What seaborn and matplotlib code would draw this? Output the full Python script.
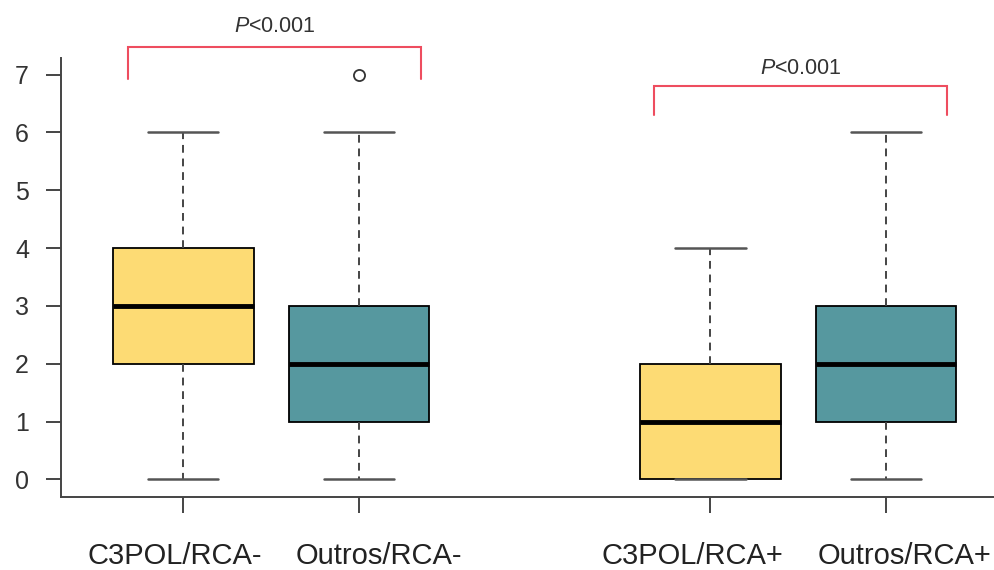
import matplotlib
matplotlib.use("Agg")
import matplotlib.pyplot as plt
import matplotlib.transforms as mtransforms
import seaborn as sns
import pandas as pd

# ---- data ----
categories = ["C3POL/RCA-", "Outros/RCA-", "C3POL/RCA+", "Outros/RCA+"]
kinds = ["C3POL", "Outros", "C3POL", "Outros"]
c3pol_rca_neg = [0, 2, 2, 3, 3, 3, 4, 4, 6]
outros_rca_neg = [0, 1, 1, 2, 2, 3, 3, 6, 7]
c3pol_rca_pos = [0, 0, 0, 1, 1, 2, 2, 3, 4]
outros_rca_pos = [0, 1, 1, 2, 2, 3, 3, 5, 6]
series = [c3pol_rca_neg, outros_rca_neg, c3pol_rca_pos, outros_rca_pos]
y_ticks = [0, 1, 2, 3, 4, 5, 6, 7]
p_label = "$\\mathit{P}$<0.001"

# layout positions (R-style gap between the two groups)
positions = [1, 2, 4, 5]
label_shift_px = [-9, 20, -18, 18]

rows = []
for cat, kind, pos, vals in zip(categories, kinds, positions, series):
    for v in vals:
        rows.append({"category": cat, "kind": kind, "pos": pos, "value": v})
df = pd.DataFrame(rows)

sns.set_theme(style="white")
plt.rcParams["font.family"] = ["Liberation Sans", "DejaVu Sans"]
plt.rcParams["mathtext.fontset"] = "custom"
plt.rcParams["mathtext.it"] = "Liberation Sans:italic"
plt.rcParams["mathtext.rm"] = "Liberation Sans"

fig = plt.figure(figsize=(9.94, 5.70), dpi=100)
ax = fig.add_axes([0.0614, 0.1286, 0.9386, 0.7691])

palette = {"C3POL": "#FDDB74", "Outros": "#56989F"}
sns.boxplot(
    data=df, x="pos", y="value", hue="kind", palette=palette,
    native_scale=True, width=0.8, legend=False, ax=ax,
    linecolor="black", linewidth=1.3, saturation=1,
    boxprops={"edgecolor": "black", "linewidth": 1.3},
    whiskerprops={"color": "#444444", "linestyle": (0, (4, 3)), "linewidth": 1.4},
    capprops={"color": "#555555", "linewidth": 1.8},
    medianprops={"color": "black", "linewidth": 3.5},
    flierprops={"marker": "o", "markerfacecolor": "none",
                "markeredgecolor": "#333333", "markersize": 8,
                "markeredgewidth": 1.3},
)

ax.set_xlim(0.304, 5.614)
ax.set_ylim(-0.30, 7.28)
ax.set_xticks(positions)
ax.set_xticklabels(categories)
ax.set_yticks(y_ticks)
ax.set_yticklabels([str(t) for t in y_ticks])
ax.set_xlabel("")
ax.set_ylabel("")

for s in ["top", "right"]:
    ax.spines[s].set_visible(False)
for s in ["left", "bottom"]:
    ax.spines[s].set_color("#444444")
    ax.spines[s].set_linewidth(1.4)

ax.tick_params(axis="y", direction="out", length=11, width=1.4, color="#444444",
               labelsize=18, labelcolor="#333333", pad=12, left=True)
ax.tick_params(axis="x", direction="out", length=11.5, width=1.4, color="#444444",
               labelsize=21, labelcolor="#222222", pad=21, bottom=True)

for lbl, dx in zip(ax.get_xticklabels(), label_shift_px):
    off = mtransforms.ScaledTranslation(dx / 100.0, 0, fig.dpi_scale_trans)
    lbl.set_transform(lbl.get_transform() + off)

# significance brackets
red = "#EE4D5F"
brackets = [(0.687, 2.351, 7.48, 6.917, 7.83), (3.681, 5.345, 6.806, 6.30, 7.107)]
for x0, x1, ytop, yend, ytxt in brackets:
    ax.plot([x0, x0, x1, x1], [yend, ytop, ytop, yend], color=red,
            linewidth=1.5, clip_on=False, solid_joinstyle="miter")
    ax.text((x0 + x1) / 2, ytxt, p_label, ha="center", va="center",
            fontsize=15.5, color="#333333", clip_on=False)

fig.savefig("out.png", dpi=100)
